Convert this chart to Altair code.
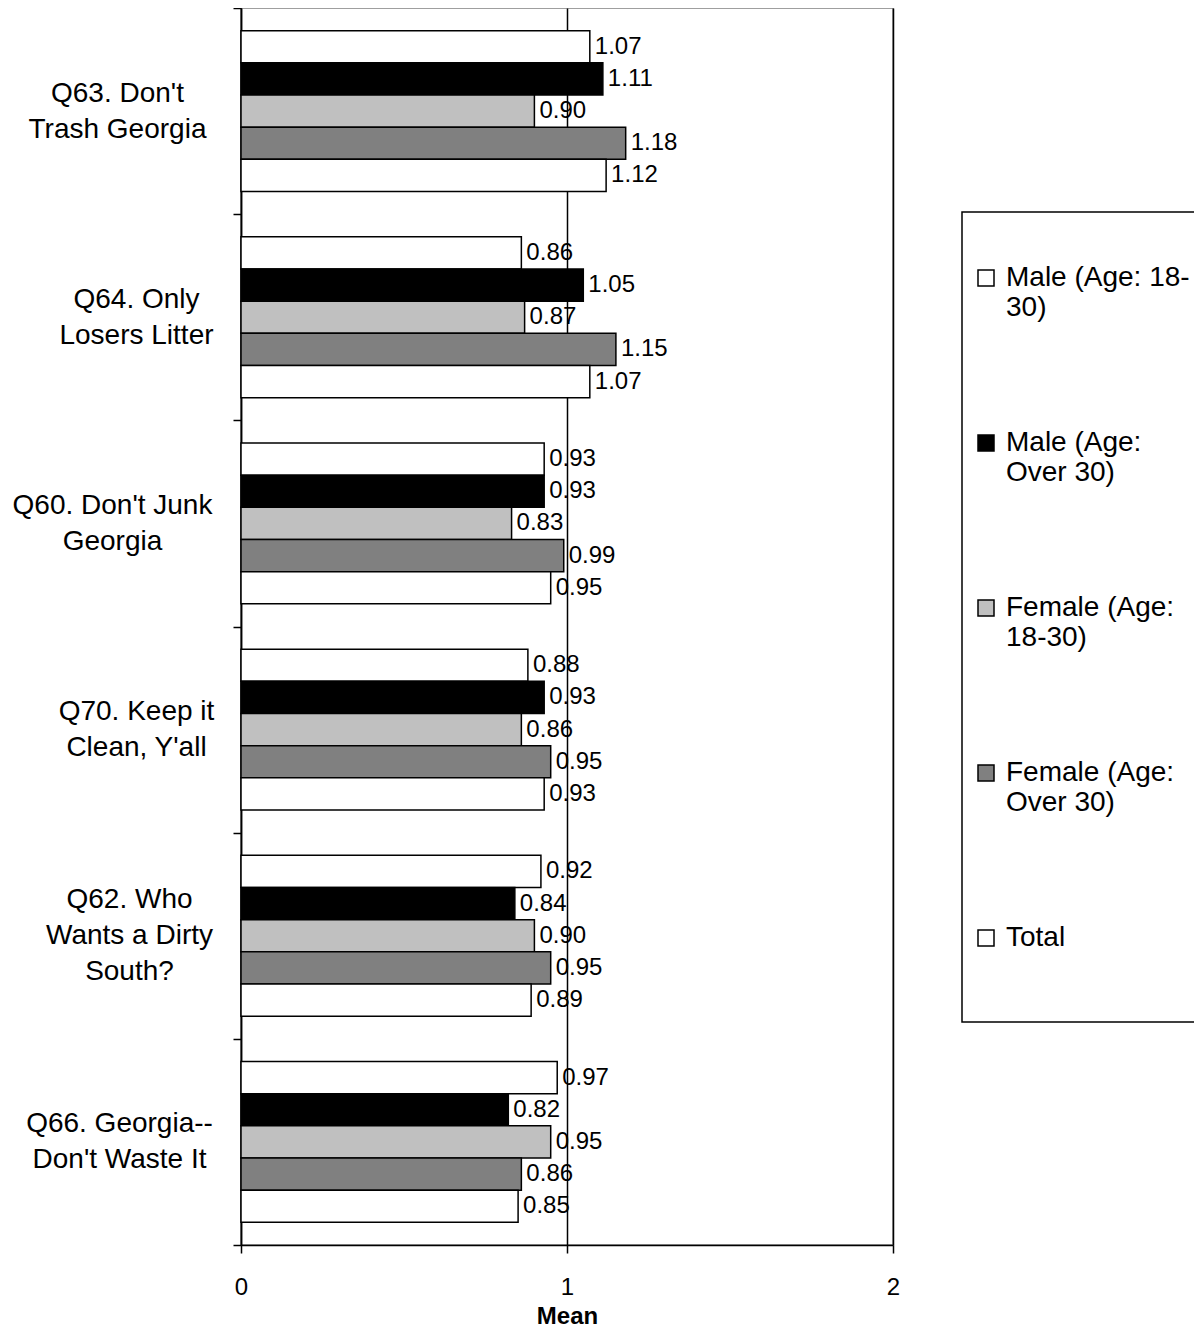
import json
import altair as alt
import pandas as pd

categories = [
    "Q63. Don't Trash Georgia",
    "Q64. Only Losers Litter",
    "Q60. Don't Junk Georgia",
    "Q70. Keep it Clean, Y'all",
    "Q62. Who Wants a Dirty South?",
    "Q66. Georgia--Don't Waste It",
]
category_lines = {
    "Q63. Don't Trash Georgia": ["Q63. Don't", "Trash Georgia"],
    "Q64. Only Losers Litter": ["Q64. Only", "Losers Litter"],
    "Q60. Don't Junk Georgia": ["Q60. Don't Junk", "Georgia"],
    "Q70. Keep it Clean, Y'all": ["Q70. Keep it", "Clean, Y'all"],
    "Q62. Who Wants a Dirty South?": ["Q62. Who", "Wants a Dirty", "South?"],
    "Q66. Georgia--Don't Waste It": ["Q66. Georgia--", "Don't Waste It"],
}
# horizontal label padding (px) so each wrapped block sits like the original
category_label_pad = {
    "Q63. Don't Trash Georgia": 116,
    "Q64. Only Losers Litter": 97,
    "Q60. Don't Junk Georgia": 121,
    "Q70. Keep it Clean, Y'all": 97,
    "Q62. Who Wants a Dirty South?": 104,
    "Q66. Georgia--Don't Waste It": 114,
}
series = [
    "Male (Age: 18-30)",
    "Male (Age: Over 30)",
    "Female (Age: 18-30)",
    "Female (Age: Over 30)",
    "Total",
]
series_lines = {
    "Male (Age: 18-30)": ["Male (Age: 18-", "30)"],
    "Male (Age: Over 30)": ["Male (Age:", "Over 30)"],
    "Female (Age: 18-30)": ["Female (Age:", "18-30)"],
    "Female (Age: Over 30)": ["Female (Age:", "Over 30)"],
    "Total": ["Total", "", ""],
}
colors = ["#FFFFFF", "#000000", "#C0C0C0", "#808080", "#FFFFFF"]

male_18_30 = [1.07, 0.86, 0.93, 0.88, 0.92, 0.97]
male_over_30 = [1.11, 1.05, 0.93, 0.93, 0.84, 0.82]
female_18_30 = [0.90, 0.87, 0.83, 0.86, 0.90, 0.95]
female_over_30 = [1.18, 1.15, 0.99, 0.95, 0.95, 0.86]
total = [1.12, 1.07, 0.95, 0.93, 0.89, 0.85]

values = [male_18_30, male_over_30, female_18_30, female_over_30, total]

rows = []
for s, vals in zip(series, values):
    for c, v in zip(categories, vals):
        rows.append({"category": c, "series": s, "mean": v})
df = pd.DataFrame(rows)


def map_expr(mapping):
    expr = "datum.label"
    for k, v in mapping.items():
        expr = f"datum.label == {json.dumps(k)} ? {json.dumps(v)} : ({expr})"
    return expr


FONT = "Liberation Sans"
LINE_H = 36
three_line = [k for k, v in category_lines.items() if len(v) == 3]

y_enc = alt.Y(
    "category:N",
    sort=categories,
    scale=alt.Scale(paddingInner=0, paddingOuter=0),
    axis=alt.Axis(
        title=None,
        labelExpr=map_expr(category_lines),
        labelAlign="center",
        labelBaseline="middle",
        labelPadding={
            "condition": [
                {"test": f"datum.value == {json.dumps(k)}", "value": v}
                for k, v in category_label_pad.items()
            ],
            "value": 110,
        },
        labelOffset={
            "condition": {
                "test": f"indexof({json.dumps(three_line)}, datum.value) >= 0",
                "value": -LINE_H,
            },
            "value": -LINE_H / 2,
        },
        labelFontSize=28,
        labelLineHeight=LINE_H,
        labelFont=FONT,
        labelColor="black",
        labelLimit=400,
        tickBand="extent",
        tickSize=8,
        tickColor="black",
        tickWidth=1.5,
        domainColor="black",
        domainWidth=1.5,
        grid=False,
    ),
)
yoff = alt.YOffset(
    "series:N",
    sort=series,
    scale=alt.Scale(paddingInner=0, paddingOuter=0.705),
)
x_enc = alt.X(
    "mean:Q",
    scale=alt.Scale(domain=[0, 2], nice=False),
    axis=alt.Axis(
        title="Mean",
        titleFont=FONT,
        titleFontSize=24,
        titleFontWeight="bold",
        titleColor="black",
        titlePadding=5,
        values=[0, 1, 2],
        labelExpr="toString(datum.value)",
        labelFlush=False,
        labelOverlap=False,
        labelFont=FONT,
        labelFontSize=24,
        labelColor="black",
        labelPadding=22,
        tickSize=8,
        tickColor="black",
        tickWidth=1.5,
        domainColor="black",
        domainWidth=1.5,
        grid=True,
        gridColor="black",
        gridWidth=1.5,
    ),
)

bars = alt.Chart(df).mark_bar(stroke="black", strokeWidth=1.5).encode(
    y=y_enc,
    yOffset=yoff,
    x=x_enc,
    color=alt.Color(
        "series:N",
        sort=series,
        scale=alt.Scale(domain=series, range=colors),
        legend=alt.Legend(
            title=" ",
            titleFontSize=28,
            titlePadding=14,
            orient="none",
            legendX=721,
            legendY=204,
            direction="vertical",
            symbolType="square",
            symbolSize=256,
            symbolStrokeColor="black",
            symbolStrokeWidth=1.5,
            labelExpr=map_expr(series_lines),
            labelFont=FONT,
            labelFontSize=28,
            labelColor="black",
            labelLimit=400,
            labelOffset=6,
            rowPadding=107,
            padding=10,
            strokeColor="black",
            fillColor="white",
        ),
    ),
)

labels = alt.Chart(df).mark_text(
    align="left", baseline="middle", dx=5, font=FONT, fontSize=24, color="black"
).encode(
    y=alt.Y("category:N", sort=categories),
    yOffset=alt.YOffset("series:N", sort=series),
    x=alt.X("mean:Q"),
    text=alt.Text("mean:Q", format=".2f"),
)

chart = (
    alt.layer(bars, labels)
    .properties(
        width=652,
        height=1237,
        autosize=alt.AutoSizeParams(type="none"),
        padding={"left": 233, "top": 0, "right": 301, "bottom": 84},
    )
    .configure_view(stroke="#808080", strokeWidth=1.5)
    .configure_legend(strokeWidth=1.5)
)

chart.save("out.html", embed_options={"renderer": "svg", "actions": False})
